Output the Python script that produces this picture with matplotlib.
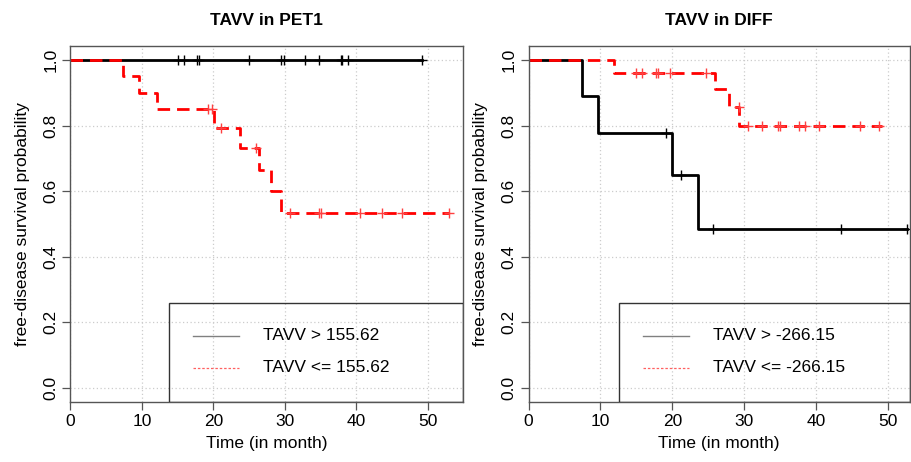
import numpy as np
import matplotlib
matplotlib.use("Agg")
import matplotlib.pyplot as plt
from matplotlib.patches import Rectangle

plt.rcParams['font.family'] = ['Liberation Sans', 'DejaVu Sans']

# ---- PET1 panel ----
pet_hi_times = [0, 49.2]
pet_hi_surv = [1.0, 1.0]
pet_hi_cens = [15.1, 15.9, 17.7, 18.0, 24.9, 29.4, 29.9, 32.8, 34.8, 37.8, 38.0, 38.8, 49.2]

pet_lo_times = [0, 7.4, 9.6, 12.1, 20.1, 23.7, 26.4, 28.0, 29.4, 52.9]
pet_lo_surv = [1.0, 0.95, 0.90, 0.85, 0.793, 0.732, 0.666, 0.600, 0.533, 0.533]
pet_lo_cens = [19.3, 19.75, 21.1, 25.9, 30.7, 34.8, 35.0, 40.5, 43.5, 46.3, 52.9]

# ---- DIFF panel ----
diff_hi_times = [0, 7.4, 9.6, 20.0, 23.6, 52.6]
diff_hi_surv = [1.0, 0.889, 0.778, 0.648, 0.486, 0.486]
diff_hi_cens = [19.1, 21.2, 25.7, 43.4, 52.6]

diff_lo_times = [0, 11.9, 25.9, 27.9, 29.3, 49.1]
diff_lo_surv = [1.0, 0.962, 0.911, 0.857, 0.80, 0.80]
diff_lo_cens = [14.9, 15.7, 17.7, 18.0, 19.7, 24.6, 29.2, 30.5, 32.5, 34.6, 34.9,
                37.6, 38.4, 40.4, 46.1, 48.7]

titles = ["TAVV in PET1", "TAVV in DIFF"]
labels_hi = ["TAVV > 155.62", "TAVV > -266.15"]
labels_lo = ["TAVV <= 155.62", "TAVV <= -266.15"]
xmax = [54.9, 53.0]
x_ticks = [0, 10, 20, 30, 40, 50]
y_ticks = [0.0, 0.2, 0.4, 0.6, 0.8, 1.0]


def step_at(times, surv, t):
    i = np.searchsorted(times, t, side='right') - 1
    return np.asarray(surv)[i]


def draw_km(ax, times, surv, cens, color, ls, mcolor):
    ax.plot(times, surv, drawstyle='steps-post', color=color, lw=2,
            linestyle=ls, dashes=(4.5, 2.5) if ls == '--' else (None, None))
    cy = [step_at(times, surv, c) for c in cens]
    ax.plot(cens, cy, linestyle='none', marker='+', markersize=7,
            markeredgewidth=1, color=mcolor)


fig = plt.figure(figsize=(9.12, 4.62), dpi=100)
positions = [[0.0773, 0.1299, 0.4304, 0.7706], [0.5795, 0.1299, 0.4183, 0.7706]]
data = [
    (pet_hi_times, pet_hi_surv, pet_hi_cens, pet_lo_times, pet_lo_surv, pet_lo_cens),
    (diff_hi_times, diff_hi_surv, diff_hi_cens, diff_lo_times, diff_lo_surv, diff_lo_cens),
]
leg_left = [0.252, 0.238]
handle_x = [(0.312, 0.429), (0.300, 0.421)]
text_x = [0.491, 0.484]

for k in range(2):
    ax = fig.add_axes(positions[k])
    ht, hs, hc, lt, ls_, lc = data[k]
    for gx in x_ticks:
        ax.axvline(gx, color='#cccccc', lw=0.9, ls=(0, (1, 2)), zorder=0)
    for gy in y_ticks:
        ax.axhline(gy, color='#cccccc', lw=0.9, ls=(0, (1, 2)), zorder=0)
    draw_km(ax, ht, hs, hc, 'black', '-', 'black')
    draw_km(ax, lt, ls_, lc, 'red', '--', '#ff4040')

    ax.set_xlim(0, xmax[k])
    ax.set_ylim(-0.043, 1.043)
    ax.set_xticks(x_ticks)
    ax.set_yticks(y_ticks)
    ax.set_yticklabels(["%.1f" % v for v in y_ticks], rotation=90, va='center')
    ax.tick_params(axis='both', labelsize=12.5, length=6, width=0.9,
                   color='#555555', pad=2.5)
    for s in ax.spines.values():
        s.set_color('#555555')
        s.set_linewidth(1.0)
    ax.set_title(titles[k], fontsize=12.5, fontweight='bold', pad=15)
    ax.set_xlabel("Time (in month)", fontsize=12.5, labelpad=5)
    ax.set_ylabel("free-disease survival probability", fontsize=12.5, labelpad=10)

    # legend box (R style, no fill)
    ax.add_patch(Rectangle((leg_left[k], 0.0), 1.0 - leg_left[k], 0.277,
                           transform=ax.transAxes, fill=False,
                           edgecolor='#333333', lw=1.0, zorder=5))
    x0, x1 = handle_x[k]
    ax.plot([x0, x1], [0.186, 0.186], transform=ax.transAxes,
            color='#808080', lw=1.0, zorder=5)
    ax.plot([x0, x1], [0.096, 0.096], transform=ax.transAxes,
            color='#ff6060', lw=0.9, ls=(0, (2, 1.5)), zorder=5)
    ax.text(text_x[k], 0.186, labels_hi[k], transform=ax.transAxes,
            fontsize=12.5, va='center', ha='left')
    ax.text(text_x[k], 0.096, labels_lo[k], transform=ax.transAxes,
            fontsize=12.5, va='center', ha='left')

fig.savefig("out.png", dpi=100)
